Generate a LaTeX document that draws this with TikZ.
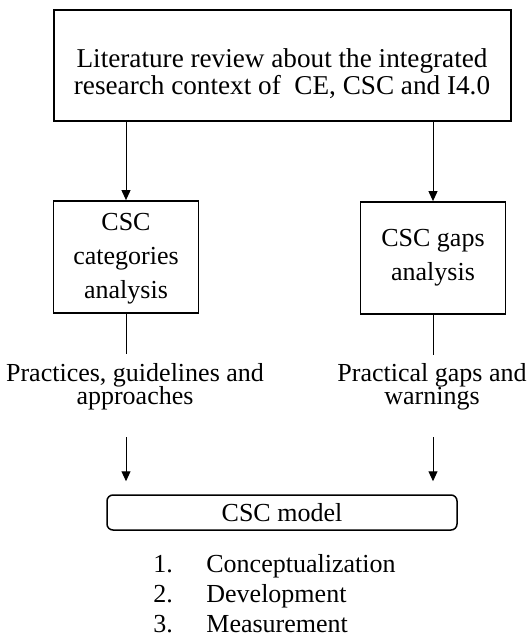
\documentclass[tikz,border=0pt]{standalone}
\usepackage{fontspec}
\setmainfont{Liberation Serif}
\usetikzlibrary{positioning,calc,arrows.meta}
\newcommand\tightlines{\fontsize{13}{11.5}\selectfont\lineskiplimit=-6pt\relax}

\begin{document}
\begin{tikzpicture}[x=0.5pt, y=-0.5pt,
  bigbox/.style={draw, line width=1pt, minimum width=228.5pt, minimum height=55.5pt, inner sep=0pt},
  stagebox/.style={draw, line width=0.9pt, minimum width=72.5pt, minimum height=56pt, align=center, font=\fontsize{13}{17}\selectfont},
  flowtxt/.style={align=center, font=\tightlines},
  modelbox/.style={draw, line width=0.75pt, rounded corners=3pt, minimum width=175pt, minimum height=17.5pt, inner sep=0pt, font=\fontsize{13}{15}\selectfont},
  listtxt/.style={font=\fontsize{13}{15}\selectfont, anchor=base west, inner sep=0pt},
  feed/.style={-{Triangle[length=5pt, width=4.5pt]}, line width=0.5pt}
]
  \useasboundingbox (0,0) rectangle (528,639);

  \node[bigbox] (lit) at (282.5,65.5) {};
  \node[flowtxt, font=\fontsize{13.6}{12.5}\selectfont] (littxt) at (282,74) {Literature review about the integrated\\research context of~ CE, CSC and I4.0};

  \node[stagebox] (cat) at (126,257) {\\[-7pt]CSC\\categories\\analysis};
  \node[stagebox] (gap) at (433,258) {CSC gaps\\analysis};

  \draw[feed] (lit.south -| cat) -- (cat.north);
  \draw[feed] (lit.south -| gap) -- (gap.north);

  \draw[line width=0.5pt] (cat.south) -- ++(0,40);
  \draw[line width=0.5pt] (gap.south) -- ++(0,40);

  \node[flowtxt] (prac) at (135,387) {Practices, guidelines and\\approaches};
  \node[flowtxt] (warn) at (432,387) {Practical gaps and\\warnings};

  \node[modelbox] (model) at (282,512.5) {CSC model};

  \draw[feed] ($(model.north -| cat)+(0,-57)$) -- ($(model.north -| cat)+(0,-13)$);
  \draw[feed] ($(model.north -| gap)+(0,-57)$) -- ($(model.north -| gap)+(0,-13)$);

  \foreach \i/\phase in {1/Conceptualization,2/Development,3/Measurement}{
    \node[listtxt] (num\i) at (153,{542+30*\i}) {\i.};
    \node[listtxt] (item\i) at (206,{542+30*\i}) {\phase};
  }
\end{tikzpicture}
\end{document}
